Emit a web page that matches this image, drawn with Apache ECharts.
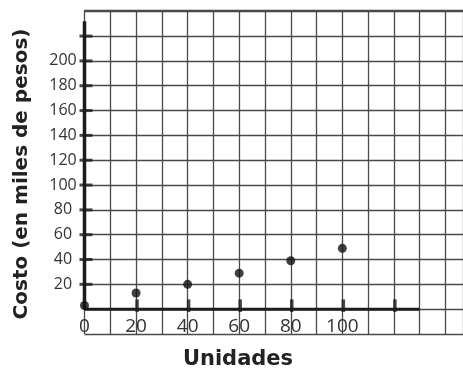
<!DOCTYPE html>
<html>
<head>
<meta charset="utf-8">
<script src="https://cdn.jsdelivr.net/npm/echarts@6/dist/echarts.min.js"></script>
<style>
  html, body { margin: 0; padding: 0; background: #fff; }
  #chart { width: 463px; height: 371px; }
</style>
</head>
<body>
<div id="chart"></div>
<script>
// Units produced and their cost (thousands of pesos)
const unidades = [0, 20, 40, 60, 80, 100];
const costo = [3, 13, 20, 29, 39, 49];

// Labelled ticks
const xTickLabels = [0, 20, 40, 60, 80, 100];
const yTickLabels = [20, 40, 60, 80, 100, 120, 140, 160, 180, 200];

// Tick marks drawn on the heavy axes
const xTickMarks = [20, 40, 60, 80, 100, 120];
const yTickMarks = [20, 40, 60, 80, 100, 120, 140, 160, 180, 200, 220];

// Extent of the heavy axis lines
const xAxisEnd = 130;
const yAxisEnd = 232;

// Value range of the grid paper
const yMin = -20;
const yMax = 241;

const gridTop = 10;
const gridBottom = 37;
const chartHeight = 371;

// Pixel distance from the bottom edge of the grid up to the zero row
const plotH = chartHeight - gridTop - gridBottom;
const zeroRowOffset = plotH * (0 - yMin) / (yMax - yMin);

const chart = echarts.init(document.getElementById('chart'));

const gridLine = { show: true, lineStyle: { color: '#4a4a4a', width: 1.3 } };
const axisColor = '#1c1c1c';

chart.setOption({
  animation: false,
  backgroundColor: '#fff',
  grid: { left: 84.5, right: -3, top: gridTop, bottom: gridBottom },
  xAxis: {
    type: 'value',
    min: 0,
    max: 146.8,
    interval: 10,
    position: 'bottom',
    offset: -zeroRowOffset,
    axisLine: { show: false },
    axisTick: { show: false },
    splitLine: gridLine,
    axisLabel: {
      margin: 8,
      fontFamily: 'Open Sans',
      fontSize: 19,
      color: '#333',
      showMaxLabel: false,
      formatter: v => (xTickLabels.indexOf(v) >= 0 ? String(v) : '')
    }
  },
  yAxis: {
    type: 'value',
    min: yMin,
    max: yMax,
    interval: 20,
    axisLine: { show: false, onZero: false },
    axisTick: { show: false },
    splitLine: gridLine,
    axisLabel: {
      margin: 21.5,
      align: 'center',
      fontFamily: 'Open Sans',
      fontSize: 16,
      color: '#333',
      formatter: v => (yTickLabels.indexOf(v) >= 0 ? String(v) : '')
    }
  },
  graphic: [
    {
      type: 'text',
      x: 238,
      y: 360,
      style: {
        text: 'Unidades',
        font: 'bold 21px "DejaVu Sans"',
        fill: '#222',
        textAlign: 'center',
        textVerticalAlign: 'middle'
      }
    },
    {
      type: 'text',
      x: 22,
      y: 174,
      rotation: Math.PI / 2,
      style: {
        text: 'Costo (en miles de pesos)',
        font: 'bold 20px "DejaVu Sans"',
        fill: '#222',
        textAlign: 'center',
        textVerticalAlign: 'middle'
      }
    }
  ],
  series: [
    {
      name: 'eje x',
      type: 'line',
      data: [[0, 0], [xAxisEnd, 0]],
      symbol: 'none',
      lineStyle: { color: axisColor, width: 3 },
      z: 3
    },
    {
      name: 'eje y',
      type: 'line',
      data: [[0, 0], [0, yAxisEnd]],
      symbol: 'none',
      lineStyle: { color: axisColor, width: 3.5 },
      z: 3
    },
    {
      name: 'marcas x',
      type: 'scatter',
      data: xTickMarks.map(v => [v, 0]),
      symbol: 'rect',
      symbolSize: [3.5, 12.5],
      symbolOffset: [1, -3.5],
      itemStyle: { color: axisColor },
      z: 4
    },
    {
      name: 'marcas y',
      type: 'scatter',
      data: yTickMarks.map(v => [0, v]),
      symbol: 'rect',
      symbolSize: [13, 3],
      symbolOffset: [1.5, 0],
      itemStyle: { color: axisColor },
      z: 4
    },
    {
      name: 'Costo',
      type: 'scatter',
      data: unidades.map((u, i) => [u, costo[i]]),
      symbol: 'circle',
      symbolSize: 9,
      itemStyle: { color: '#111' },
      z: 5
    }
  ]
});
</script>
</body>
</html>
